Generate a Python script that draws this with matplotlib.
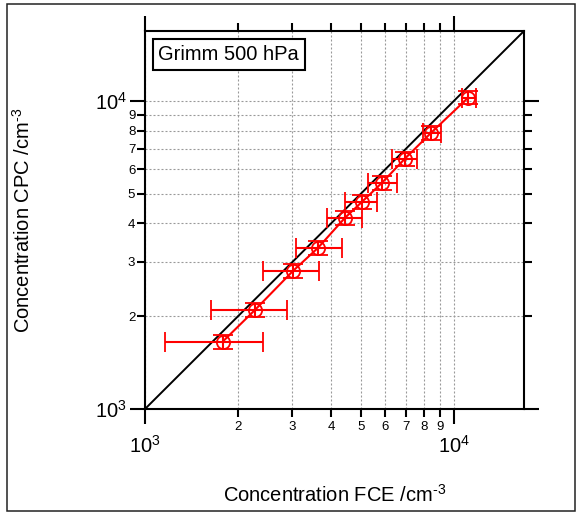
import numpy as np
import matplotlib
matplotlib.use("Agg")
import matplotlib.pyplot as plt
from matplotlib import ticker
from matplotlib.patches import Rectangle

plt.rcParams['font.family'] = ['Liberation Sans', 'DejaVu Sans']
plt.rcParams['mathtext.fontset'] = 'custom'
plt.rcParams['mathtext.rm'] = 'Liberation Sans'
plt.rcParams['mathtext.default'] = 'regular'

# Grimm 500 hPa: FCE vs CPC concentrations (cm^-3)
fce = [1784, 2270, 3013, 3630, 4436, 5035, 5846, 6935, 8425, 11125]
fce_low = [1161, 1635, 2410, 3081, 3880, 4436, 5270, 6300, 7950, 10620]
fce_high = [2410, 2880, 3656, 4340, 5035, 5640, 6540, 7590, 9080, 11780]
cpc = [1654, 2097, 2806, 3334, 4170, 4700, 5420, 6490, 7870, 10250]
cpc_err = [85, 105, 140, 165, 210, 235, 270, 325, 395, 510]

one_to_one = [1000, 16850]
label_text = "Grimm 500 hPa"

fig = plt.figure(figsize=(5.77, 5.12), dpi=100)
ax = fig.add_axes([145 / 577, 1 - 409 / 512, 379 / 577, 378 / 512])

# outer frame around the whole figure
fig.patches.append(Rectangle((6.5 / 577, 1.5 / 512), 568.5 / 577, 507 / 512,
                             transform=fig.transFigure, fill=False,
                             edgecolor='#222222', linewidth=1.1))

ax.set_xscale('log')
ax.set_yscale('log')
ax.set_xlim(one_to_one)
ax.set_ylim(one_to_one)

ax.plot(one_to_one, one_to_one, color='black', linewidth=1.4, zorder=2)

xerr = [np.array(fce) - np.array(fce_low), np.array(fce_high) - np.array(fce)]
ax.errorbar(fce, cpc, xerr=xerr, yerr=cpc_err, color='red', linewidth=1.5,
            elinewidth=1.5, capsize=7, capthick=1.5, marker='o',
            markersize=9.5, markerfacecolor='none', markeredgecolor='red',
            markeredgewidth=1.3, zorder=3)

for axis in (ax.xaxis, ax.yaxis):
    axis.set_major_locator(ticker.LogLocator(base=10, subs=[1.0]))
    axis.set_minor_locator(ticker.LogLocator(base=10, subs=range(2, 10)))
    axis.set_major_formatter(ticker.FuncFormatter(
        lambda v, p: '$10^{%d}$' % int(round(np.log10(v)))))
    axis.set_minor_formatter(ticker.FuncFormatter(
        lambda v, p: '%d' % int(round(v / 10 ** np.floor(np.log10(v) + 1e-9)))))

ax.grid(True, which='both', color='#999999', linewidth=0.8,
        linestyle=(0, (1.8, 1.8)), zorder=0)
ax.set_axisbelow(True)

for s in ax.spines.values():
    s.set_linewidth(1.5)

ax.tick_params(which='both', direction='out', top=True, right=True,
               labeltop=False, labelright=False, width=1.5, color='black')
ax.tick_params(which='major', length=11, labelsize=14.5)
ax.tick_params(which='minor', length=5.8, labelsize=9.5)
ax.tick_params(axis='x', which='major', pad=7.5)
ax.tick_params(axis='x', which='minor', pad=2.7)
ax.tick_params(axis='y', which='major', pad=2)
ax.tick_params(axis='y', which='minor', pad=1.2)

ax.text(0.2206, 0.9378, label_text, transform=ax.transAxes, ha='center',
        va='center', fontsize=14.5,
        bbox=dict(boxstyle='square,pad=0.28', facecolor='white',
                  edgecolor='black', linewidth=1.5), zorder=5)

fig.text(334.5 / 577, 10 / 512, 'Concentration FCE /cm$^{\\text{-}3}$',
         ha='center', va='baseline', fontsize=14.5)
fig.text(30 / 577, 1 - 220.5 / 512, 'Concentration CPC /cm$^{\\text{-}3}$',
         ha='center', va='baseline', rotation=90, rotation_mode='anchor',
         fontsize=14.5)

fig.savefig('out.png', dpi=100)
